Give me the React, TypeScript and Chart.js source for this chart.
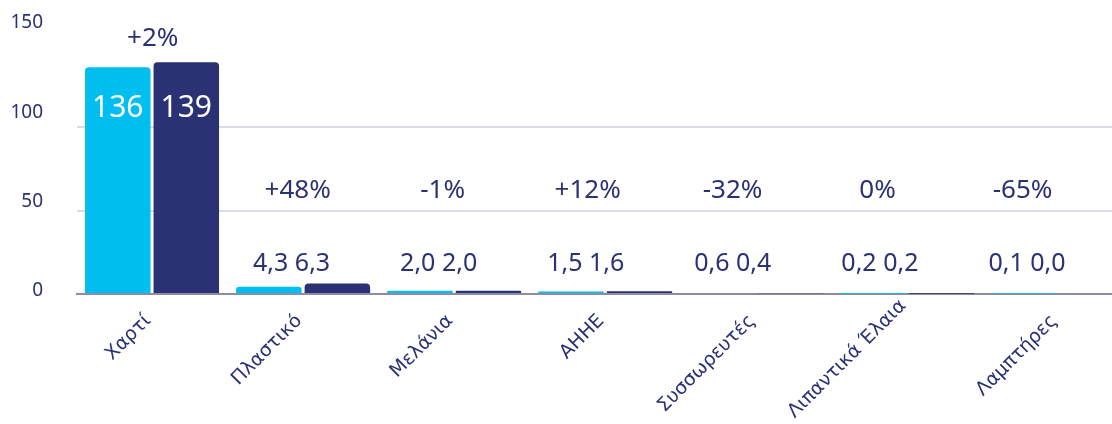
import React, { useEffect, useRef } from "react";
import { Chart, registerables } from "chart.js";

Chart.register(...registerables);

const CATEGORIES = ["Χαρτί", "Πλαστικό", "Μελάνια", "ΑΗΗΕ", "Συσσωρευτές", "Λιπαντικά Έλαια", "Λαμπτήρες"];
const SERIES_A = [136, 4.3, 2.0, 1.5, 0.6, 0.2, 0.1];
const SERIES_B = [139, 6.3, 2.0, 1.6, 0.4, 0.2, 0.0];
const CHANGE_LABELS = ["+2%", "+48%", "-1%", "+12%", "-32%", "0%", "-65%"];
const Y_TICKS = [0, 50, 100, 150];

const CYAN = "#00BEF0";
const NAVY = "#2B3175";
const TEXT = "#2B3175";
const FONT = "'Noto Sans', sans-serif";
const XFONT = "'DejaVu Sans', sans-serif";

function fmt(v: number): string {
  if (v >= 10) return String(Math.round(v));
  return v.toFixed(1).replace(".", ",");
}

const labelPlugin = {
  id: "customLabels",
  afterDatasetsDraw(chart: any) {
    const ctx = chart.ctx as CanvasRenderingContext2D;
    const xs = chart.scales.x;
    const ys = chart.scales.y;
    const zero = ys.getPixelForValue(0);
    const c0 = xs.getPixelForValue(0);
    const H = chart.height;
    ctx.save();
    // y tick labels
    ctx.fillStyle = TEXT;
    ctx.font = `19px ${FONT}`;
    ctx.textAlign = "right";
    ctx.textBaseline = "middle";
    Y_TICKS.forEach((v) => {
      const y = zero + (ys.getPixelForValue(v) - zero) * 1.072 - 3;
      ctx.fillText(String(v), 43, y);
    });
    // x category labels, rotated 45 degrees
    ctx.font = `19px ${XFONT}`;
    CATEGORIES.forEach((lab, i) => {
      const cx = xs.getPixelForValue(i);
      const w = ctx.measureText(lab).width;
      let yEnd = zero + 24;
      const bottom = yEnd + w * 0.7071 + 8;
      if (bottom > H - 1) yEnd -= bottom - (H - 1);
      ctx.save();
      ctx.translate(cx - 4, yEnd);
      ctx.rotate(-Math.PI / 4);
      ctx.textAlign = "right";
      ctx.textBaseline = "middle";
      ctx.fillStyle = TEXT;
      ctx.fillText(lab, 0, 0);
      ctx.restore();
    });
    const metaA = chart.getDatasetMeta(0);
    const metaB = chart.getDatasetMeta(1);
    CATEGORIES.forEach((_, i) => {
      const cx = xs.getPixelForValue(i);
      const a = SERIES_A[i];
      const b = SERIES_B[i];
      const big = Math.max(a, b) > 50;
      ctx.textAlign = "center";
      ctx.textBaseline = "middle";
      const px = c0 + 0.7 + (cx - c0) * 0.9596;
      if (big) {
        const ba = metaA.data[i];
        const bb = metaB.data[i];
        ctx.fillStyle = "#ffffff";
        ctx.font = `30px ${FONT}`;
        ctx.fillText(fmt(a), ba.x, ba.y + 41);
        ctx.fillText(fmt(b), bb.x, bb.y + 46);
        ctx.fillStyle = TEXT;
        ctx.font = `26px ${FONT}`;
        ctx.fillText(CHANGE_LABELS[i], px, Math.min(ba.y, bb.y) - 24);
      } else {
        ctx.fillStyle = TEXT;
        ctx.font = `25px ${FONT}`;
        ctx.fillText(`${fmt(a)} ${fmt(b)}`, c0 - 7.5 + (cx - c0) * 0.9735, zero - 30);
        ctx.font = `26px ${FONT}`;
        ctx.fillText(CHANGE_LABELS[i], px, zero - 103);
      }
    });
    ctx.restore();
  },
};

export default function App() {
  const ref = useRef<HTMLCanvasElement | null>(null);
  useEffect(() => {
    if (!ref.current) return;
    const chart = new Chart(ref.current, {
      type: "bar",
      data: {
        labels: CATEGORIES,
        datasets: [
          {
            data: SERIES_A,
            backgroundColor: CYAN,
            borderRadius: { topLeft: 4, topRight: 4, bottomLeft: 0, bottomRight: 0 },
            borderSkipped: false,
            categoryPercentage: 0.907,
            barPercentage: 0.956,
          },
          {
            data: SERIES_B,
            backgroundColor: NAVY,
            borderRadius: { topLeft: 4, topRight: 4, bottomLeft: 0, bottomRight: 0 },
            borderSkipped: false,
            categoryPercentage: 0.907,
            barPercentage: 0.956,
          },
        ],
      },
      options: {
        animation: false,
        responsive: false,
        layout: { padding: { top: 44, right: 0, left: 0, bottom: 0 } },
        plugins: {
          legend: { display: false },
          tooltip: { enabled: false },
        },
        scales: {
          x: {
            grid: { display: false },
            border: { display: true, color: "#8c8ca4", width: 2 },
            ticks: { display: false },
            afterFit: (s: any) => {
              s.height = 130;
            },
          },
          y: {
            min: 0,
            max: 150,
            ticks: { display: false, stepSize: 50 },
            border: { display: false },
            grid: {
              lineWidth: 2,
              drawTicks: false,
              color: (c: any) =>
                c.tick && (c.tick.value === 50 || c.tick.value === 100) ? "#dcdce8" : "rgba(0,0,0,0)",
            },
            afterFit: (s: any) => {
              s.width = 76.5;
            },
          },
        },
      },
      plugins: [labelPlugin],
    });
    return () => chart.destroy();
  }, []);
  return (
    <div
      style={{
        position: "fixed",
        left: 0,
        top: 0,
        width: 1112,
        height: 424,
        overflow: "hidden",
        background: "#ffffff",
      }}
    >
      <canvas ref={ref} width={1134} height={424} style={{ display: "block" }} />
    </div>
  );
}
